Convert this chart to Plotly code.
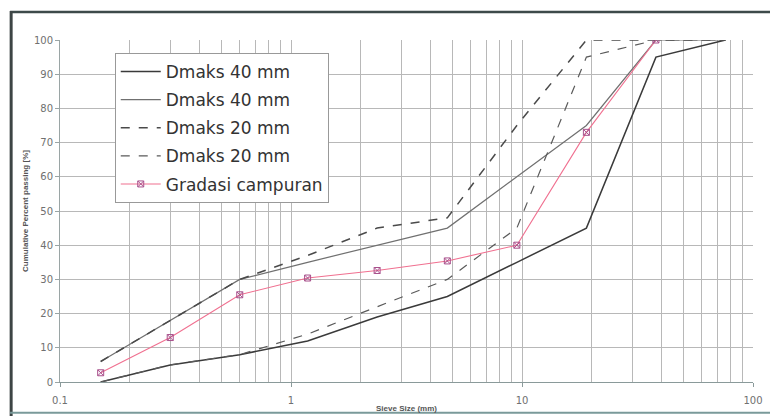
import plotly.graph_objects as go

# Sieve sizes (mm)
sieve = [0.15, 0.3, 0.6, 1.18, 2.36, 4.75, 9.5, 19, 38, 76]

# Grading limits
d40_lower = [0, 5, 8, 12, 19, 25, 35, 45, 95, 100]
d40_upper = [6, 18, 30, 35, 40, 45, 60, 75, 100, 100]
d20_upper = [6, 18, 30, 37, 45, 48, 75, 100, 100, 100]
d20_lower = [0, 5, 8, 14, 22, 30, 45, 95, 100, 100]

# Combined grading
mix_sieve = [0.15, 0.3, 0.6, 1.18, 2.36, 4.75, 9.5, 19, 38]
mix_pass = [2.7, 13, 25.5, 30.4, 32.6, 35.4, 40, 73, 100]

x_ticks = [0.1, 1, 10, 100]
x_tick_text = ["0.1", "1", "10", "100"]

fig = go.Figure()
fig.add_trace(go.Scatter(x=sieve, y=d40_lower, mode="lines", name="Dmaks 40 mm",
                         line=dict(color="#3a3a3a", width=1.5), legendgroup="a"))
fig.add_trace(go.Scatter(x=sieve, y=d40_upper, mode="lines", name="Dmaks 40 mm",
                         line=dict(color="#707070", width=1.2), legendgroup="b"))
fig.add_trace(go.Scatter(x=sieve, y=d20_upper, mode="lines", name="Dmaks 20 mm",
                         line=dict(color="#4a4a4a", width=1.5, dash="dash"), legendgroup="c"))
fig.add_trace(go.Scatter(x=sieve, y=d20_lower, mode="lines", name="Dmaks 20 mm",
                         line=dict(color="#5a5a5a", width=1.2, dash="dash"), legendgroup="d"))
fig.add_trace(go.Scatter(x=mix_sieve, y=mix_pass, mode="lines+markers", name="Gradasi campuran",
                         line=dict(color="#f07090", width=1.1),
                         marker=dict(symbol="square-x-open", size=6, color="#a8508c",
                                     line=dict(width=1, color="#a8508c")),
                         legendgroup="e"))

grid = "#b8b8b8"
fig.update_xaxes(type="log", range=[-1, 2], tickvals=x_ticks, ticktext=x_tick_text,
                 automargin=False,
                 showgrid=True, gridcolor=grid, gridwidth=1,
                 minor=dict(dtick="D1", showgrid=True, gridcolor=grid, gridwidth=1, ticks=""),
                 ticks="outside", ticklen=4, tickcolor="#8a9a9a",
                 showline=True, linecolor="#8a9a9a", linewidth=1,
                 tickfont=dict(family="DejaVu Sans", size=10, color="#707070"),
                 ticklabelstandoff=5, zeroline=False,
                 title=dict(text="<b>Sieve Size (mm)</b>", standoff=0,
                            font=dict(family="Liberation Sans", size=8, color="#555555")))
fig.update_yaxes(range=[0, 100], dtick=10, showgrid=True, gridcolor=grid, gridwidth=1,
                 automargin=False,
                 ticks="outside", ticklen=4, tickcolor="#9aa5a5",
                 showline=True, linecolor="#9aa5a5", linewidth=1, zeroline=False,
                 tickfont=dict(family="DejaVu Sans", size=10, color="#707070"),
                 title=dict(text="<b>Cumulative Percent passing [%]</b>", standoff=4,
                            font=dict(family="Liberation Sans", size=8, color="#555555")))

fig.update_layout(
    width=770, height=416,
    margin=dict(l=60, r=17, t=40, b=34),
    paper_bgcolor="white", plot_bgcolor="white",
    showlegend=True,
    legend=dict(x=0.079, y=0.962, xanchor="left", yanchor="top",
                bgcolor="white", bordercolor="#999999", borderwidth=1,
                font=dict(family="DejaVu Sans", size=17, color="#333333"),
                tracegroupgap=3, itemwidth=40),
    shapes=[
        dict(type="line", xref="paper", yref="paper", x0=-0.072, x1=1.03, y0=1.082, y1=1.082,
             line=dict(color="#3d4a4a", width=2.5)),
        dict(type="line", xref="paper", yref="paper", x0=-0.0705, x1=-0.0705, y0=1.085, y1=-0.1,
             line=dict(color="#3d4545", width=3)),
        dict(type="line", xref="paper", yref="paper", x0=-0.072, x1=1.03, y0=-0.09, y1=-0.09,
             line=dict(color="#7a9a9a", width=2)),
    ],
)

fig.write_html("out.html")
